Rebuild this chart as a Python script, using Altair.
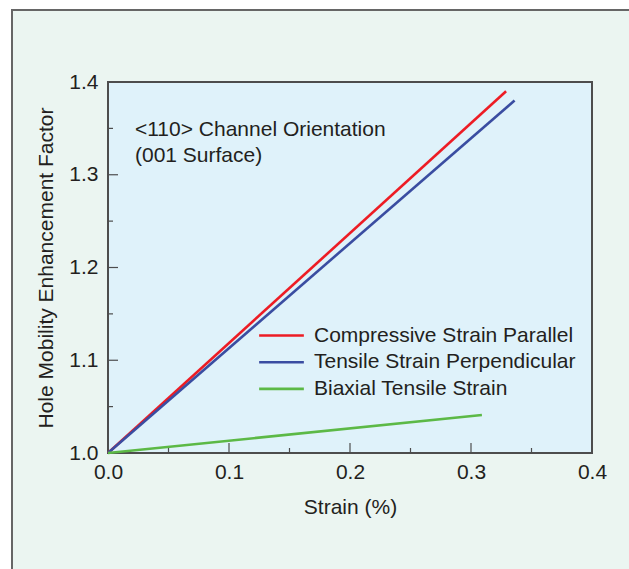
import altair as alt
import pandas as pd

# Hole mobility enhancement vs. strain, <110> channel on (001) surface
series = [
    "Compressive Strain Parallel",
    "Tensile Strain Perpendicular",
    "Biaxial Tensile Strain",
]
colors = ["#ed1c24", "#3a4da1", "#5cb946"]
strain_start = [0.0, 0.0, 0.0]
factor_start = [1.0, 1.0, 1.0]
strain_end = [0.329, 0.336, 0.309]
factor_end = [1.390, 1.380, 1.041]

x_major = [0.1, 0.2, 0.3]
x_minor = [0.05, 0.15, 0.25, 0.35]
y_major = [1.1, 1.2, 1.3]
y_minor = [1.05, 1.15, 1.25, 1.35]
x_labels = [0.0, 0.1, 0.2, 0.3, 0.4]
y_labels = [1.0, 1.1, 1.2, 1.3, 1.4]

note_text = ["<110> Channel Orientation", "(001 Surface)"]
note_x = [0.0223]
note_y = [1.342]

W, H = 484, 371
FONT = "Liberation Sans"
INK = "#231f20"
FRAME = "#4d4d4d"

rows = []
for s, x0, y0, x1, y1 in zip(series, strain_start, factor_start, strain_end, factor_end):
    rows.append({"series": s, "strain": x0, "factor": y0})
    rows.append({"series": s, "strain": x1, "factor": y1})
lines_df = pd.DataFrame(rows)

xs = alt.Scale(domain=[0, 0.4], nice=False, zero=False)
ys = alt.Scale(domain=[1.0, 1.4], nice=False, zero=False)
x_title = "Strain (%)"
y_title = "Hole Mobility Enhancement Factor"
axis_style = dict(
    format=".1f", ticks=False, domain=False, grid=False, labelFlush=False,
    labelFont=FONT, labelFontSize=21, labelColor=INK,
    titleFont=FONT, titleFontSize=21, titleColor=INK, titleFontWeight="normal",
    zindex=2,
)
x_axis = alt.Axis(values=x_labels, labelPadding=8, titlePadding=14, **axis_style)
y_axis = alt.Axis(values=y_labels, labelPadding=10, titlePadding=12, **axis_style)


def X(field):
    return alt.X(field, scale=xs, title=x_title, axis=x_axis)


def Y(field):
    return alt.Y(field, scale=ys, title=y_title, axis=y_axis)


# outer panel and framed plot background
panel = alt.Chart(pd.DataFrame({"k": [0]})).mark_rect(
    fill="#ebf5f1", stroke="#666666", strokeWidth=2
).encode(x=alt.value(-96), x2=alt.value(W + 200), y=alt.value(-72), y2=alt.value(H + 200))

plot_bg = alt.Chart(pd.DataFrame({"k": [0]})).mark_rect(
    fill="#dff2fa", stroke=FRAME, strokeWidth=2
).encode(x=alt.value(0), x2=alt.value(W), y=alt.value(0), y2=alt.value(H))

lines = alt.Chart(lines_df).mark_line(strokeWidth=2.6, clip=False).encode(
    x=X("strain:Q"),
    y=Y("factor:Q"),
    color=alt.Color(
        "series:N",
        scale=alt.Scale(domain=series, range=colors),
        sort=series,
        legend=alt.Legend(
            title=None,
            orient="none",
            legendX=161,
            legendY=241,
            symbolType="M-2,0H2",
            symbolSize=500,
            symbolStrokeWidth=2.6,
            labelFont=FONT,
            labelFontSize=21,
            labelColor=INK,
            labelOffset=20,
            labelLimit=0,
            rowPadding=3.7,
            padding=0,
            zindex=2,
        ),
    ),
    detail="series:N",
)


def x_ticks(vals, length):
    return alt.Chart(pd.DataFrame({"strain": vals})).mark_rule(
        color=FRAME, strokeWidth=1.2
    ).encode(x=X("strain:Q"), y=alt.value(H), y2=alt.value(H - length))


def y_ticks(vals, length):
    return alt.Chart(pd.DataFrame({"factor": vals})).mark_rule(
        color=FRAME, strokeWidth=1.2
    ).encode(y=Y("factor:Q"), x=alt.value(0), x2=alt.value(length))


note = alt.Chart(
    pd.DataFrame({"strain": note_x, "factor": note_y, "label": ["\n".join(note_text)]})
).mark_text(
    align="left", baseline="alphabetic", font=FONT, fontSize=21, color=INK,
    lineBreak="\n", lineHeight=26,
).encode(x=X("strain:Q"), y=Y("factor:Q"), text="label:N")

chart = alt.layer(
    panel, plot_bg,
    x_ticks(x_major, 10), x_ticks(x_minor, 5),
    y_ticks(y_major, 10), y_ticks(y_minor, 5),
    lines, note,
).properties(
    width=W, height=H,
    autosize=alt.AutoSizeParams(type="none"),
    padding={"left": 108, "top": 82, "right": 37, "bottom": 116},
    background="white",
).configure_view(
    stroke=None
)

chart.save("out.html", embed_options={"renderer": "svg", "actions": False})
